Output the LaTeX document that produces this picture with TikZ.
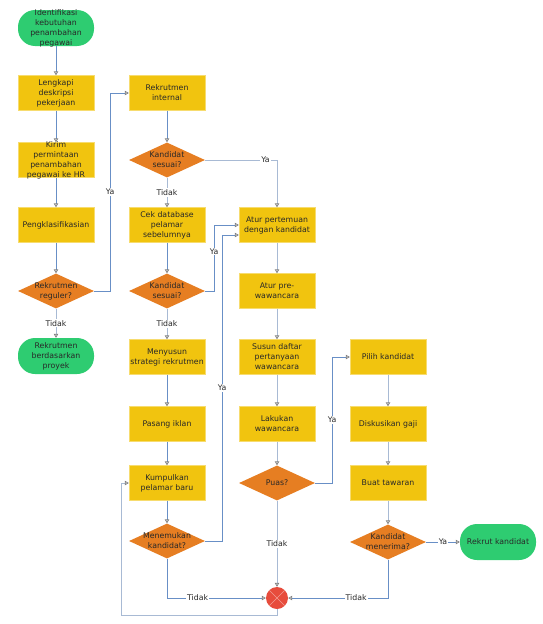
\documentclass[tikz,border=0pt]{standalone}
\usepackage{fontspec}
\setmainfont{DejaVu Sans}
\usetikzlibrary{arrows.meta,shapes.geometric}
\definecolor{termgreen}{RGB}{46,204,113}
\definecolor{boxyellow}{RGB}{241,196,15}
\definecolor{diaorange}{RGB}{230,126,34}
\definecolor{stopred}{RGB}{231,76,60}
\definecolor{flowblue}{RGB}{104,143,198}
\definecolor{flowgrey}{RGB}{168,186,212}
\definecolor{txtgrey}{RGB}{40,40,40}

\begin{document}
\begin{tikzpicture}[x=1pt,y=-1pt,font=\fontsize{7.8}{10}\selectfont]
                      \tikzstyle{txt}=[align=center,text=txtgrey,inner sep=0pt]
                      \tikzstyle{term}=[rectangle,rounded corners=17pt,fill=termgreen,minimum width=76pt,minimum height=36pt,inner sep=0pt]
                      \tikzstyle{task}=[rectangle,fill=boxyellow,draw=boxyellow!60!white,minimum width=76pt,minimum height=35pt,inner sep=0pt]
                      \tikzstyle{ask}=[diamond,fill=diaorange,minimum width=76pt,minimum height=35pt,inner sep=0pt]
                      \tikzstyle{stop}=[circle,fill=stopred,minimum size=22pt,inner sep=0pt,path picture={\draw[stopred!55!white,line width=0.6pt] (path picture bounding box.north west) -- (path picture bounding box.south east) (path picture bounding box.north east) -- (path picture bounding box.south west);}]
                      \tikzstyle{flow}=[draw=flowblue,line width=0.8pt,-{Triangle[open,length=4pt,width=4.5pt,color=gray]}]
                      \tikzstyle{flowlight}=[flow,draw=flowgrey]
                      \tikzstyle{lbl}=[fill=white,text=txtgrey,inner sep=1pt]
                      \useasboundingbox (0,0) rectangle (543,624);
                      % first column
                      \node[term,label={[txt]center:{Identifikasi\\kebutuhan\\penambahan\\pegawai}}] (mulai) at (56,28) {};
                      \node[task,label={[txt]center:{Lengkapi\\deskripsi\\pekerjaan}}] (lengkapi) at (56,93) {};
                      \node[task,label={[txt]center:{Kirim\\permintaan\\penambahan\\pegawai ke HR}}] (kirim) at (56,160) {};
                      \node[task,label={[txt]center:{Pengklasifikasian}}] (klas) at (56,225) {};
                      \node[ask,label={[txt]center:{Rekrutmen\\reguler?}}] (reguler) at (56,291) {};
                      \node[term,label={[txt]center:{Rekrutmen\\berdasarkan\\proyek}}] (proyek) at (56,356) {};
                      % second column
                      \node[task,label={[txt]center:{Rekrutmen\\internal}}] (internal) at (167,93) {};
                      \node[ask,label={[txt]center:{Kandidat\\sesuai?}}] (sesuai1) at (167,160) {};
                      \node[task,label={[txt]center:{Cek database\\pelamar\\sebelumnya}}] (cekdb) at (167,225) {};
                      \node[ask,label={[txt]center:{Kandidat\\sesuai?}}] (sesuai2) at (167,291) {};
                      \node[task,label={[txt]center:{Menyusun\\strategi rekrutmen}}] (strategi) at (167,357) {};
                      \node[task,label={[txt]center:{Pasang iklan}}] (iklan) at (167,424) {};
                      \node[task,label={[txt]center:{Kumpulkan\\pelamar baru}}] (kumpul) at (167,483) {};
                      \node[ask,label={[txt]center:{Menemukan\\kandidat?}}] (temukan) at (167,541) {};
                      % third column
                      \node[task,label={[txt]center:{Atur pertemuan\\dengan kandidat}}] (atur) at (277,225) {};
                      \node[task,label={[txt]center:{Atur pre-\\wawancara}}] (pre) at (277,291) {};
                      \node[task,label={[txt]center:{Susun daftar\\pertanyaan\\wawancara}}] (susun) at (277,357) {};
                      \node[task,label={[txt]center:{Lakukan\\wawancara}}] (lakukan) at (277,424) {};
                      \node[ask,label={[txt]center:{Puas?}}] (puas) at (277,483) {};
                      \node[stop] (henti) at (277,598) {};
                      % fourth column
                      \node[task,label={[txt]center:{Pilih kandidat}}] (pilih) at (388,357) {};
                      \node[task,label={[txt]center:{Diskusikan gaji}}] (gaji) at (388,424) {};
                      \node[task,label={[txt]center:{Buat tawaran}}] (tawar) at (388,483) {};
                      \node[ask,label={[txt]center:{Kandidat\\menerima?}}] (terima) at (388,542) {};
                      \node[term,label={[txt]center:{Rekrut kandidat}}] (rekrut) at (498,542) {};
                      % connectors
                      \draw[flow] (mulai) -- (lengkapi);
                      \draw[flow] (lengkapi) -- (kirim);
                      \draw[flow] (kirim) -- (klas);
                      \draw[flow] (klas) -- (reguler);
                      \draw[flowlight] (reguler) -- (proyek) node [lbl, midway] {Tidak};
                      \draw[flow] (reguler.east) -- ++(16,0) |- (internal.west) node [lbl, pos=0.25] {Ya};
                      \draw[flow] (internal) -- (sesuai1);
                      \draw[flowlight] (sesuai1.east) -| (atur.north) node [lbl, pos=0.42] {Ya};
                      \draw[flowlight] (sesuai1) -- (cekdb) node [lbl, midway] {Tidak};
                      \draw[flow] (cekdb) -- (sesuai2);
                      \draw[flow] (sesuai2.east) -- ++(9,0) |- (atur.west) node [lbl, pos=0.3] {Ya};
                      \draw[flowlight] (sesuai2) -- (strategi) node [lbl, midway] {Tidak};
                      \draw[flow] (strategi) -- (iklan);
                      \draw[flow] (iklan) -- (kumpul);
                      \draw[flow] (kumpul) -- (temukan);
                      \draw[flow] (temukan.east) -- ++(17,0) |- ([yshift=-10pt]atur.west) node [lbl, pos=0.25] {Ya};
                      \draw[flow] (temukan.south) |- (henti.west) node [lbl, pos=0.655] {Tidak};
                      \draw[flowlight] (atur) -- (pre);
                      \draw[flowlight] (pre) -- (susun);
                      \draw[flowlight] (susun) -- (lakukan);
                      \draw[flowlight] (lakukan) -- (puas);
                      \draw[flowlight] (puas) -- (henti) node [lbl, midway] {Tidak};
                      \draw[flow] (puas.east) -- ++(17,0) |- (pilih.west) node [lbl, pos=0.25] {Ya};
                      \draw[flowlight] (pilih) -- (gaji);
                      \draw[flowlight] (gaji) -- (tawar);
                      \draw[flowlight] (tawar) -- (terima);
                      \draw[flow] (terima) -- (rekrut) node [lbl, midway] {Ya};
                      \draw[flow] (terima.south) |- (henti.east) node [lbl, pos=0.66] {Tidak};
                      \draw[flowlight] (henti.south) -- ++(0,6) -| ([xshift=-7pt]kumpul.west) -- (kumpul.west);
                  \end{tikzpicture}
\end{document}
